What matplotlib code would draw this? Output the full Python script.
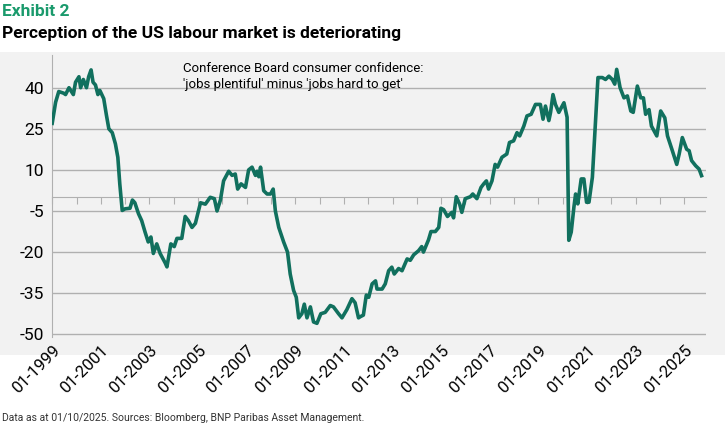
import matplotlib
matplotlib.use('Agg')
import matplotlib.pyplot as plt
from matplotlib.patches import Rectangle
import numpy as np

plt.rcParams['font.family'] = ['Roboto', 'DejaVu Sans']

# decimal year, value ('jobs plentiful' minus 'jobs hard to get')
years = [1999.0, 1999.14, 1999.27, 1999.47, 1999.55, 1999.69, 1999.87, 1999.96, 2000.1, 2000.17,
         2000.28, 2000.41, 2000.5, 2000.6, 2000.68, 2000.78, 2000.88, 2000.96, 2001.12, 2001.23,
         2001.33, 2001.47, 2001.6, 2001.7, 2001.78, 2001.88, 2002.0, 2002.2, 2002.3, 2002.4,
         2002.55, 2002.68, 2002.82, 2002.95, 2003.06, 2003.16, 2003.3, 2003.44, 2003.65, 2003.72,
         2003.88, 2004.02, 2004.13, 2004.33, 2004.47, 2004.6, 2004.75, 2004.89, 2005.1, 2005.3,
         2005.5, 2005.67, 2005.78, 2005.92, 2006.05, 2006.26, 2006.4, 2006.53, 2006.63, 2006.77,
         2006.95, 2007.08, 2007.22, 2007.36, 2007.43, 2007.5, 2007.57, 2007.7, 2007.84, 2007.98,
         2008.09, 2008.18, 2008.32, 2008.52, 2008.68, 2008.79, 2008.93, 2009.04, 2009.14, 2009.27,
         2009.37, 2009.48, 2009.62, 2009.75, 2009.89, 2010.05, 2010.23, 2010.44, 2010.57, 2010.78,
         2010.92, 2011.12, 2011.33, 2011.46, 2011.6, 2011.67, 2011.8, 2011.92, 2012.02, 2012.16,
         2012.3, 2012.36, 2012.57, 2012.7, 2012.84, 2012.97, 2013.07, 2013.25, 2013.39, 2013.6,
         2013.73, 2013.87, 2014.07, 2014.2, 2014.27, 2014.48, 2014.58, 2014.76, 2014.9, 2014.99,
         2015.1, 2015.26, 2015.44, 2015.51, 2015.62, 2015.76, 2015.85, 2015.99, 2016.2, 2016.3,
         2016.47, 2016.64, 2016.75, 2016.86, 2016.95, 2017.09, 2017.22, 2017.32, 2017.5, 2017.7,
         2017.81, 2017.98, 2018.12, 2018.23, 2018.4, 2018.53, 2018.7, 2018.88, 2019.08, 2019.19,
         2019.29, 2019.43, 2019.5, 2019.6, 2019.7, 2019.84, 2020.05, 2020.18, 2020.25, 2020.35,
         2020.46, 2020.53, 2020.62, 2020.76, 2020.87, 2020.98, 2021.08, 2021.22, 2021.45, 2021.63,
         2021.76, 2021.9, 2022.04, 2022.14, 2022.22, 2022.36, 2022.52, 2022.66, 2022.8, 2022.9,
         2023.07, 2023.21, 2023.32, 2023.41, 2023.55, 2023.65, 2023.87, 2024.03, 2024.2, 2024.31,
         2024.51, 2024.69, 2024.79, 2024.92, 2025.1, 2025.2, 2025.3, 2025.47, 2025.61, 2025.71]
values = [27, 34.7, 38.6, 38, 37.5, 40, 37.5, 42, 44, 40,
          43, 40, 44, 46.5, 42, 41, 37.5, 39, 36, 30,
          25, 23.6, 19.5, 14.6, 4.9, -4.8, -4.2, -4, -1, -2,
          -6, -8.5, -12.7, -16.3, -14.5, -20.5, -17, -20.5, -24, -25.4,
          -17, -18, -15, -15, -7, -8.5, -11, -9.5, -2, -2.5,
          0, -0.5, -5, -1, 6, 9.5, 8, 8.5, 3, 4.9,
          3.6, 10, 11, 8, 9.5, 7.5, 11, 2.4, 1.2, 1.2,
          3, -5, -11, -16.3, -20, -28, -34, -36.5, -44, -42.5,
          -39, -44, -40, -45.5, -46, -42.5, -42, -39.5, -40, -42.5,
          -44, -41, -37, -38.5, -44, -43.6, -43, -35.7, -36.5, -31.6,
          -30.5, -33.5, -33.5, -31.6, -26.8, -25.5, -28, -26, -26.8, -22.5,
          -23, -21, -19.5, -18, -20, -15.5, -12.5, -12.5, -11, -4,
          -4.5, -7, -5.5, -7.5, 0.2, -2.5, -5.5, -0.5, 0.2, 1.2,
          -0.5, 3.6, 4.9, 6, 3, 6, 12, 11, 14.6, 15.8,
          20, 20.6, 23.6, 22.4, 26, 29.7, 30.3, 33.9, 33.9, 28.5,
          33.3, 28, 31, 37.5, 33.9, 31, 34.5, 29.2, -15.7, -12.7,
          -3.6, 1.2, -2.4, 6.7, 6.7, -1.8, -1.8, 7.3, 43.7, 43.7,
          43, 44.2, 43, 41.3, 46.7, 40, 36.3, 37, 31.5, 31,
          40.6, 36.3, 36.3, 30.3, 32, 26, 22.4, 31.5, 29, 22.4,
          17, 12, 15.8, 21.8, 17.5, 17, 13.4, 11.5, 10.3, 7.9]

y_ticks = [40, 25, 10, -5, -20, -35, -50]
x_ticks = list(range(1999, 2026))
x_labels = ['01-%d' % y if (y - 1999) % 2 == 0 else '' for y in x_ticks]

fig = plt.figure(figsize=(7.25, 4.25), dpi=100)
fig.patches.append(Rectangle((0, 0.165), 1, 0.713, transform=fig.transFigure,
                             facecolor='#f2f2f2', edgecolor='none', zorder=-1))

ax = fig.add_axes([0.072, 0.207, 0.902, 0.664])
ax.set_facecolor('none')
ax.plot(years, values, color='#11705e', lw=2.6, zorder=3)

ax.set_xlim(1999, 2025.9)
ax.set_ylim(-51, 52)
ax.set_yticks(y_ticks)
ax.set_yticklabels([str(v) for v in y_ticks], fontsize=12.5)
ax.tick_params(axis='y', length=0, pad=6)
ax.grid(axis='y', color='#b0b0b0', lw=1)
for s in ['top', 'right']:
    ax.spines[s].set_visible(False)
ax.spines['left'].set_color('#b0b0b0')
ax.spines['bottom'].set_position(('data', 0))
ax.spines['bottom'].set_color('#b0b0b0')
ax.set_xticks(x_ticks)
ax.tick_params(axis='x', labelbottom=False, length=5, color='#b0b0b0', direction='out')

sec = ax.secondary_xaxis(0)
sec.set_xticks(x_ticks)
sec.set_xticklabels(x_labels, rotation=45, ha='right', rotation_mode='anchor', fontsize=12)
sec.tick_params(length=0, pad=4)
sec.spines['bottom'].set_visible(False)

ax.text(0.2, 0.975, "Conference Board consumer confidence:\n'jobs plentiful' minus 'jobs hard to get'",
        transform=ax.transAxes, fontsize=9.5, va='top', ha='left', linespacing=1.35)

fig.text(0.003, 0.972, 'Exhibit 2', color='#1a9a6c', fontsize=12.5, fontweight='bold', va='center')
fig.text(0.003, 0.922, 'Perception of the US labour market is deteriorating', color='black',
         fontsize=12.5, fontweight='bold', va='center')
fig.text(0.003, 0.016, 'Data as at 01/10/2025. Sources: Bloomberg, BNP Paribas Asset Management.',
         fontsize=7.5, color='#333333', va='center')

fig.savefig('out.png', dpi=100)
